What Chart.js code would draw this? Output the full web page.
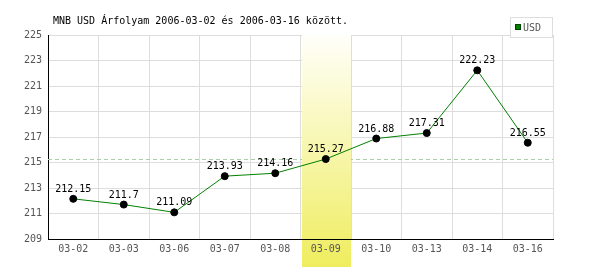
<!DOCTYPE html>
<html>
<head>
<meta charset="utf-8">
<script src="https://cdn.jsdelivr.net/npm/chart.js@4/dist/chart.umd.min.js"></script>
<style>
html,body{margin:0;padding:0;background:#fff;}
canvas{display:block;}
</style>
</head>
<body>
<canvas id="c" width="600" height="270"></canvas>
<script>
const titleText = "MNB USD Árfolyam 2006-03-02 és 2006-03-16 között.";
const seriesName = "USD";
const categories = ["03-02","03-03","03-06","03-07","03-08","03-09","03-10","03-13","03-14","03-16"];
const usdRates = [212.15, 211.7, 211.09, 213.93, 214.16, 215.27, 216.88, 217.31, 222.23, 216.55];
const valueLabels = ["212.15","211.7","211.09","213.93","214.16","215.27","216.88","217.31","222.23","216.55"];
const avgRate = 215.25;
const highlightIndex = 5;
const yMin = 209, yMax = 225, yStep = 2;

const FONT = "'DejaVu Sans Mono', 'Liberation Mono', monospace";

const decor = {
  id: 'decor',
  beforeDatasetsDraw(chart) {
    const ctx = chart.ctx, a = chart.chartArea, x = chart.scales.x, y = chart.scales.y;
    ctx.save();
    // average dashed line
    const ya = Math.round(y.getPixelForValue(avgRate)) + 0.5;
    ctx.strokeStyle = '#a9cfa9';
    ctx.lineWidth = 1;
    ctx.setLineDash([4, 3]);
    ctx.beginPath();
    ctx.moveTo(a.left, ya);
    ctx.lineTo(a.right, ya);
    ctx.stroke();
    ctx.setLineDash([]);
    // highlight band
    const cx = x.getPixelForValue(highlightIndex);
    const w = (a.right - a.left) / categories.length;
    const l = Math.round(cx - w / 2) + 1, r = Math.round(cx + w / 2);
    const g = ctx.createLinearGradient(0, a.top, 0, 267);
    g.addColorStop(0, '#fffffa');
    g.addColorStop(1, '#efed5e');
    ctx.fillStyle = g;
    ctx.fillRect(l, a.top, r - l, 267 - a.top);
    ctx.restore();
  },
  afterDatasetsDraw(chart) {
    const ctx = chart.ctx, meta = chart.getDatasetMeta(0);
    ctx.save();
    ctx.font = '10px ' + FONT;
    ctx.fillStyle = '#000';
    ctx.textAlign = 'center';
    ctx.textBaseline = 'alphabetic';
    meta.data.forEach((pt, i) => {
      ctx.fillText(valueLabels[i], pt.x, pt.y - 7);
    });
    ctx.restore();
  },
  afterDraw(chart) {
    const ctx = chart.ctx;
    ctx.save();
    // title
    ctx.font = '10px ' + FONT;
    ctx.fillStyle = '#000';
    ctx.textAlign = 'left';
    ctx.textBaseline = 'alphabetic';
    ctx.fillText(titleText, 53, 24);
    // legend
    ctx.fillStyle = '#fff';
    ctx.fillRect(510.5, 17.5, 42, 20);
    ctx.strokeStyle = '#dddddd';
    ctx.lineWidth = 1;
    ctx.strokeRect(510.5, 17.5, 42, 20);
    ctx.fillStyle = '#008000';
    ctx.fillRect(515, 24, 6, 6);
    ctx.strokeStyle = '#004400';
    ctx.strokeRect(515.5, 24.5, 5, 5);
    ctx.fillStyle = '#555';
    ctx.font = '10px ' + FONT;
    ctx.fillText(seriesName, 523, 31);
    ctx.restore();
  }
};

new Chart(document.getElementById('c'), {
  type: 'line',
  data: {
    labels: categories,
    datasets: [{
      label: seriesName,
      data: usdRates,
      borderColor: '#008000',
      borderWidth: 1,
      tension: 0,
      pointRadius: 3.5,
      pointBackgroundColor: '#000',
      pointBorderColor: '#000',
      pointBorderWidth: 1,
      fill: false
    }]
  },
  options: {
    responsive: false,
    devicePixelRatio: 1,
    animation: false,
    layout: { padding: { left: 0, top: 35, right: 47, bottom: 0 } },
    plugins: { legend: { display: false }, title: { display: false }, tooltip: { enabled: false } },
    scales: {
      x: {
        type: 'category',
        offset: true,
        grid: { color: '#dddddd', lineWidth: 1, offset: true, drawTicks: false },
        border: { color: '#000', width: 1, z: 1 },
        ticks: { color: '#555', font: { family: FONT, size: 10 }, padding: 4, z: 1, maxRotation: 0, autoSkip: false },
        afterFit(s) { s.height = 31; }
      },
      y: {
        min: yMin, max: yMax,
        grid: { color: '#dddddd', lineWidth: 1, drawTicks: false },
        border: { color: '#000', width: 1 },
        ticks: { stepSize: yStep, color: '#555', font: { family: FONT, size: 10 }, padding: 6 },
        afterFit(s) { s.width = 48; }
      }
    }
  },
  plugins: [decor]
});
</script>
</body>
</html>
